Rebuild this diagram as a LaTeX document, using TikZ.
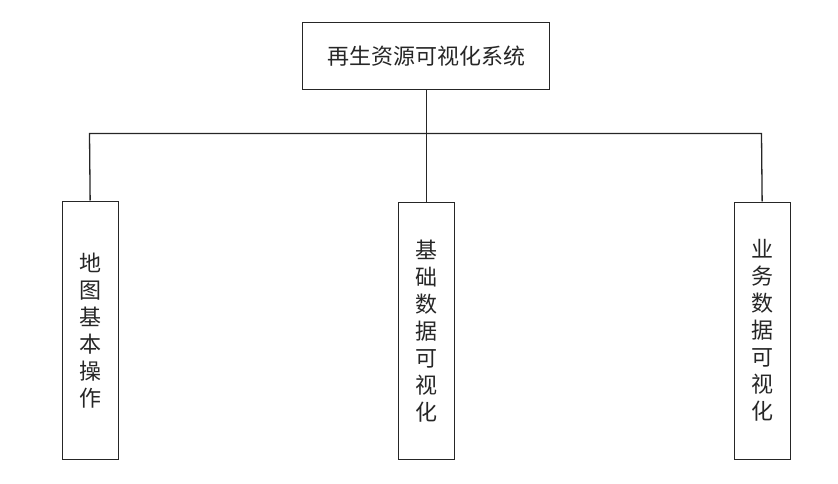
\documentclass[tikz,border=0pt]{standalone}
\usepackage{fontspec}
\newfontfamily\cjk{Noto Sans CJK SC}
\begin{document}
\begin{tikzpicture}[x=1pt,y=-1pt,
  box/.style={draw=black!85,line width=1.3pt,inner sep=0pt,anchor=north west},
  lbl/.style={font=\cjk\fontsize{22}{27}\selectfont,align=center,text=black!85},
  conn/.style={draw=black!85,line width=1.3pt}]
\useasboundingbox (0,0) rectangle (838,484);
\node[box,minimum width=247pt,minimum height=67pt] (top) at (302,22) {};
\node[lbl] at (top.center) {再生资源可视化系统};
\node[box,minimum width=56pt,minimum height=258pt] (l) at (61.5,200.5) {};
\node[box,minimum width=56pt,minimum height=257pt] (m) at (397.5,201.5) {};
\node[box,minimum width=56pt,minimum height=257pt] (r) at (733.5,201.5) {};
\node[lbl] at (l.center) {地\\图\\基\\本\\操\\作};
\node[lbl] at (m.center) {基\\础\\数\\据\\可\\视\\化};
\node[lbl] at (r.center) {业\\务\\数\\据\\可\\视\\化};
\coordinate (hl) at (89.5,133.5);
\coordinate (hr) at (761.5,133.5);
\draw[conn] (top.south) -- (m.north);
\draw[conn] (l.north) -- (hl) -- (hr) -- (r.north);
\end{tikzpicture}
\end{document}
